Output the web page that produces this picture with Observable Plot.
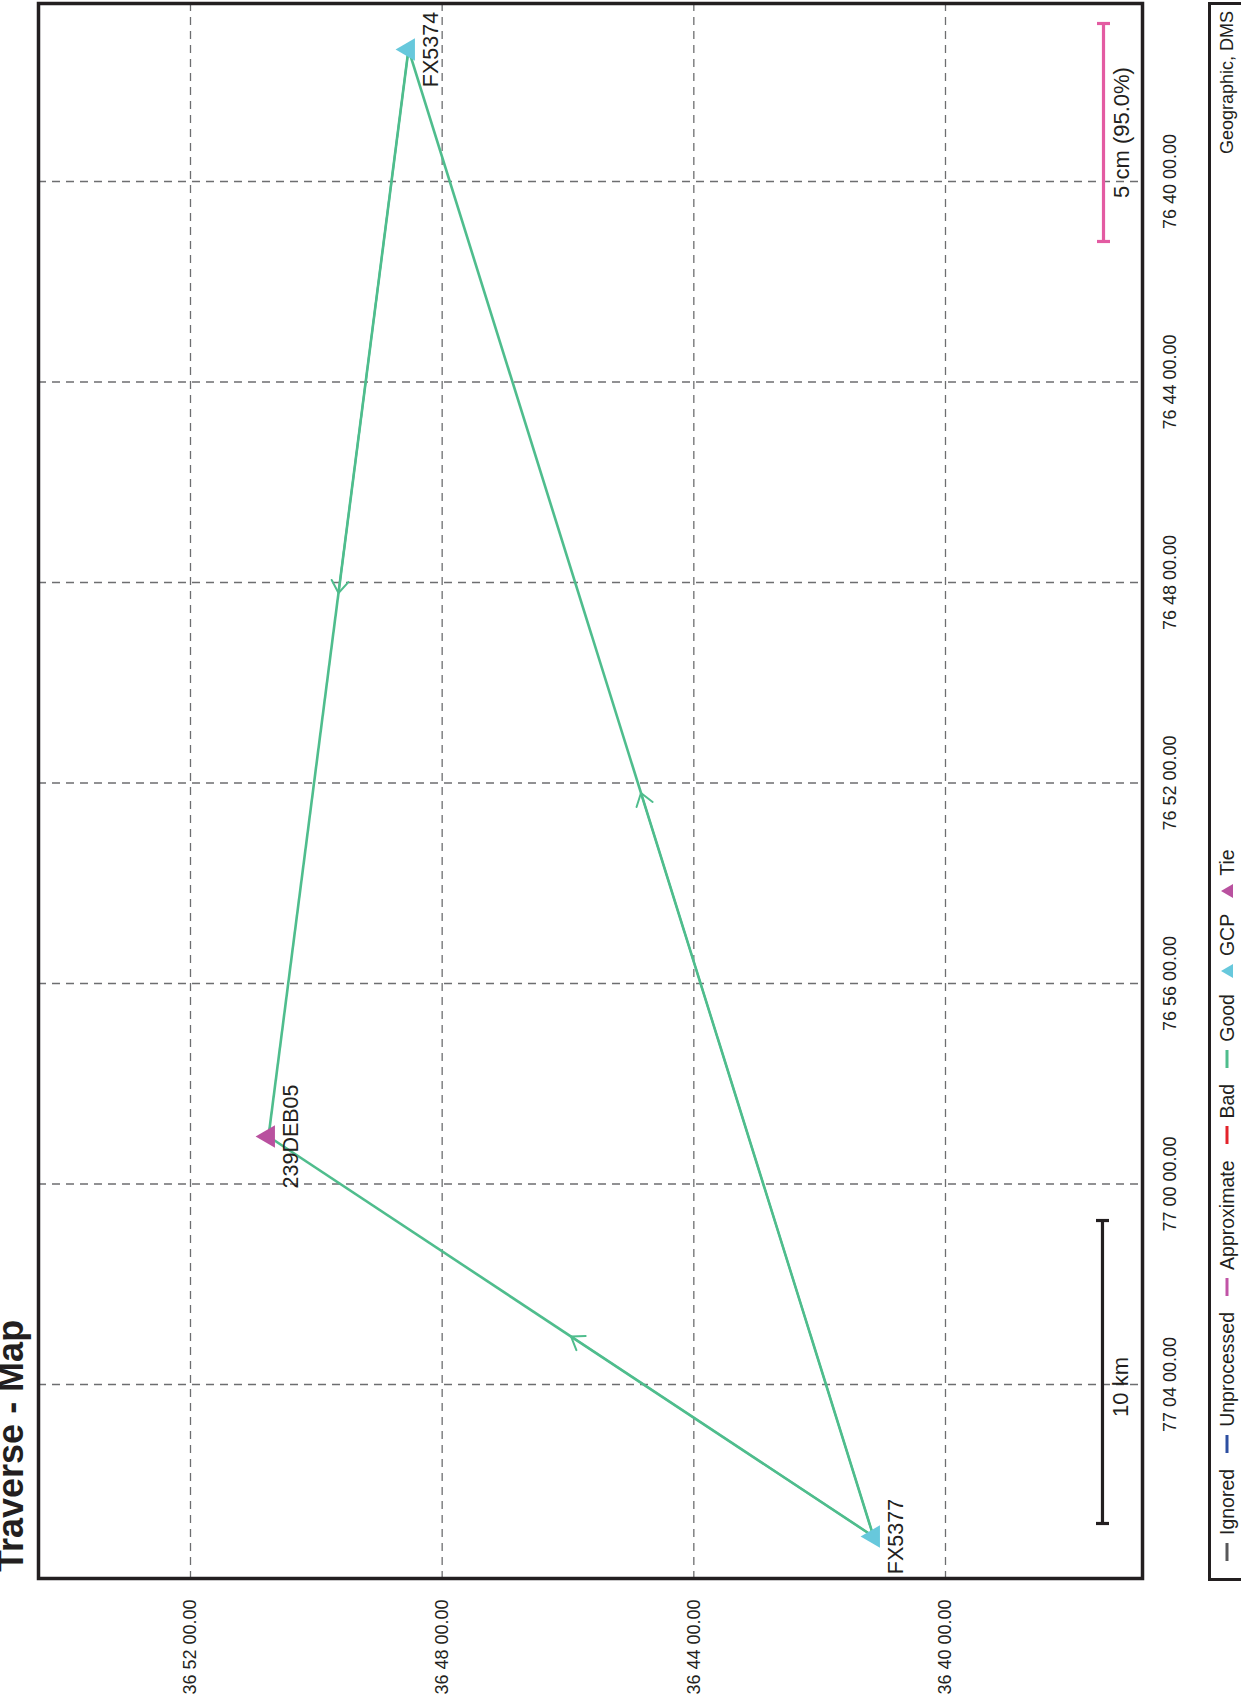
<!DOCTYPE html>
<html>
<head>
<meta charset="utf-8">
<script src="https://cdn.jsdelivr.net/npm/d3@7"></script>
<script src="https://cdn.jsdelivr.net/npm/@observablehq/plot@0.6"></script>
<style>
html, body { margin:0; padding:0; width:1241px; height:1703px; overflow:hidden; background:#fff; }
#page { position:absolute; left:0; top:0; width:1703px; height:1241px; transform-origin:0 0;
  transform: translate(0px, 1703px) rotate(-90deg);
  font-family:"Liberation Sans", Arial, Helvetica, sans-serif; color:#231f20; }
#title { position:absolute; left:131px; top:-7.5px; margin:0; font-size:36px; font-weight:bold; line-height:36px; white-space:nowrap; }
#chart { position:absolute; left:0; top:0; }
#legendBox { position:absolute; left:122.25px; top:1208.25px; width:1578.5px; height:90px; box-sizing:border-box; border:3.5px solid #231f20; }
#legendRow { position:absolute; left:142px; top:1217px; width:1550px; height:20px; display:flex; align-items:center; font-size:19.5px; line-height:20px; white-space:nowrap; }
#legendRow .item { display:flex; align-items:center; margin-right:16px; }
#legendRow svg { display:block; margin-right:8px; }
#legendRow .coord { margin-left:auto; font-size:18px; }
</style>
</head>
<body>
<div id="page">
  <h1 id="title">Traverse - Map</h1>
  <div id="chart"></div>
  <div id="legendBox"></div>
  <div id="legendRow"></div>
</div>
<script>
// ---- data ----
const lonTickLabels = ["77 04 00.00", "77 00 00.00", "76 56 00.00", "76 52 00.00", "76 48 00.00", "76 44 00.00", "76 40 00.00"];
const latTickLabels = ["36 52 00.00", "36 48 00.00", "36 44 00.00", "36 40 00.00"];

const stationNames = ["FX5374", "239DEB05", "FX5377"];
const stationTypes = ["GCP", "Tie", "GCP"];
const stationLat = [36.80892, 36.84600, 36.68574];
const stationLon = [76.62277, 76.98420, 77.11720]; // degrees West

const baselineFrom = ["FX5377", "FX5377", "FX5374"];
const baselineTo = ["239DEB05", "FX5374", "239DEB05"];
const baselineStatus = ["Good", "Good", "Good"];

const scaleBarLabels = ["10 km", "5 cm (95.0%)"];
const scaleBarLon1 = [77.11288, 76.68661];
const scaleBarLon2 = [77.01214, 76.61413];
const scaleBarLat = [36.62508, 36.62481];

const legendNames = ["Ignored", "Unprocessed", "Approximate", "Bad", "Good", "GCP", "Tie"];
const legendKinds = ["line", "line", "line", "line", "line", "tri", "tri"];
const coordSystem = "Geographic, DMS";

// ---- styles ----
const colors = {
  Ignored: "#58585a", Unprocessed: "#2d4fa1", Approximate: "#c154a6", Bad: "#e3232b",
  Good: "#4fbd8d", GCP: "#67c8dc", Tie: "#b9519f"
};
const barStyle = { "10 km": { color: "#231f20", dx: -15 }, "5 cm (95.0%)": { color: "#e35ba2", dx: 0 } };

// ---- derived tables ----
const dms = s => { const [d, m, sec] = s.split(" ").map(Number); return d + m / 60 + sec / 3600; };
const lonTicks = lonTickLabels.map(dms);
const latTicks = latTickLabels.map(dms);
const lonLabel = new Map(lonTicks.map((v, i) => [v, lonTickLabels[i]]));
const latLabel = new Map(latTicks.map((v, i) => [v, latTickLabels[i]]));

const stations = stationNames.map((n, i) => ({ name: n, type: stationTypes[i], lat: stationLat[i], lon: stationLon[i] }));
const pos = new Map(stations.map(s => [s.name, s]));
const baselines = baselineFrom.map((f, i) => {
  const a = pos.get(f), b = pos.get(baselineTo[i]);
  return { status: baselineStatus[i], lon1: a.lon, lat1: a.lat, lon2: b.lon, lat2: b.lat,
           lonM: (a.lon + b.lon) / 2, latM: (a.lat + b.lat) / 2 };
});
const bars = scaleBarLabels.map((l, i) => ({ label: l, lon1: scaleBarLon1[i], lon2: scaleBarLon2[i], lat: scaleBarLat[i] }));
const barEnds = bars.flatMap(b => [{ label: b.label, lon: b.lon1, lat: b.lat }, { label: b.label, lon: b.lon2, lat: b.lat }]);

const capSymbol = { draw(ctx) { ctx.moveTo(0, -6.5); ctx.lineTo(0, 6.5); } };
const grid = { stroke: "#6d6e70", strokeWidth: 1.3, strokeDasharray: "8,6" };

const barMarks = scaleBarLabels.flatMap(l => {
  const st = barStyle[l];
  return [
    Plot.link(bars.filter(b => b.label === l), { x1: "lon1", x2: "lon2", y1: "lat", y2: "lat", stroke: st.color, strokeWidth: 3.2 }),
    Plot.dot(barEnds.filter(b => b.label === l), { x: "lon", y: "lat", symbol: capSymbol, stroke: st.color, strokeWidth: 3.2, fill: "none", r: 6 }),
    Plot.text(bars.filter(b => b.label === l), { x: d => (d.lon1 + d.lon2) / 2, y: "lat", text: "label", dy: 18, dx: st.dx,
      lineAnchor: "middle", textAnchor: "middle", fontSize: 22, fill: "#231f20" })
  ];
});

const chart = Plot.plot({
  width: 1703, height: 1200,
  marginLeft: 124, marginRight: 4, marginTop: 38, marginBottom: 58,
  style: { fontFamily: '"Liberation Sans", Arial, Helvetica, sans-serif', fontSize: "18px", color: "#231f20", background: "transparent" },
  x: { domain: [77.13117, 76.60748] },
  y: { domain: [36.61448, 36.90693] },
  marks: [
    Plot.ruleX(lonTicks, grid),
    Plot.ruleY(latTicks, grid),
    Plot.axisX(lonTicks, { tickSize: 0, tickPadding: 21, tickFormat: d => lonLabel.get(d), fontSize: 18, label: null }),
    Plot.axisY(latTicks, { tickSize: 0, tickPadding: 21, tickFormat: d => latLabel.get(d), fontSize: 18, label: null }),
    Plot.frame({ stroke: "#231f20", strokeWidth: 3.5 }),
    Plot.link(baselines, { x1: "lon1", y1: "lat1", x2: "lon2", y2: "lat2", stroke: colors.Good, strokeWidth: 2.6 }),
    Plot.arrow(baselines, { x1: "lon1", y1: "lat1", x2: "lonM", y2: "latM", stroke: colors.Good, strokeWidth: 2, headLength: 11, headAngle: 70 }),
    Plot.dot(stations.filter(s => s.type === "GCP"), { x: "lon", y: "lat", symbol: "triangle", r: 8.3, fill: colors.GCP, stroke: "none" }),
    Plot.dot(stations.filter(s => s.type === "Tie"), { x: "lon", y: "lat", symbol: "triangle", r: 8.3, fill: colors.Tie, stroke: "none" }),
    Plot.text(stations, { x: "lon", y: "lat", text: "name", dy: 23, fontSize: 21.5, fill: "#231f20",
      textAnchor: "middle", lineAnchor: "middle", ariaLabel: "station-label" }),
    ...barMarks
  ]
});
document.getElementById("chart").appendChild(chart);

// white boxes behind station labels
chart.querySelectorAll('g[aria-label="station-label"] text').forEach(t => {
  const b = t.getBBox();
  const r = document.createElementNS("http://www.w3.org/2000/svg", "rect");
  r.setAttribute("x", b.x - 3); r.setAttribute("y", b.y - 1);
  r.setAttribute("width", b.width + 6); r.setAttribute("height", b.height + 2);
  r.setAttribute("fill", "#fff");
  if (t.getAttribute("transform")) r.setAttribute("transform", t.getAttribute("transform"));
  t.parentNode.insertBefore(r, t);
});

// legend
const row = document.getElementById("legendRow");
legendNames.forEach((n, i) => {
  const item = document.createElement("div");
  item.className = "item";
  const sw = legendKinds[i] === "line"
    ? `<svg width="18" height="20"><line x1="0" x2="18" y1="10" y2="10" stroke="${colors[n]}" stroke-width="3"/></svg>`
    : `<svg width="14" height="20"><polygon points="7,4 14,16 0,16" fill="${colors[n]}"/></svg>`;
  item.innerHTML = sw + `<span>${n}</span>`;
  row.appendChild(item);
});
const cs = document.createElement("span");
cs.className = "coord";
cs.textContent = coordSystem;
row.appendChild(cs);
</script>
</body>
</html>
